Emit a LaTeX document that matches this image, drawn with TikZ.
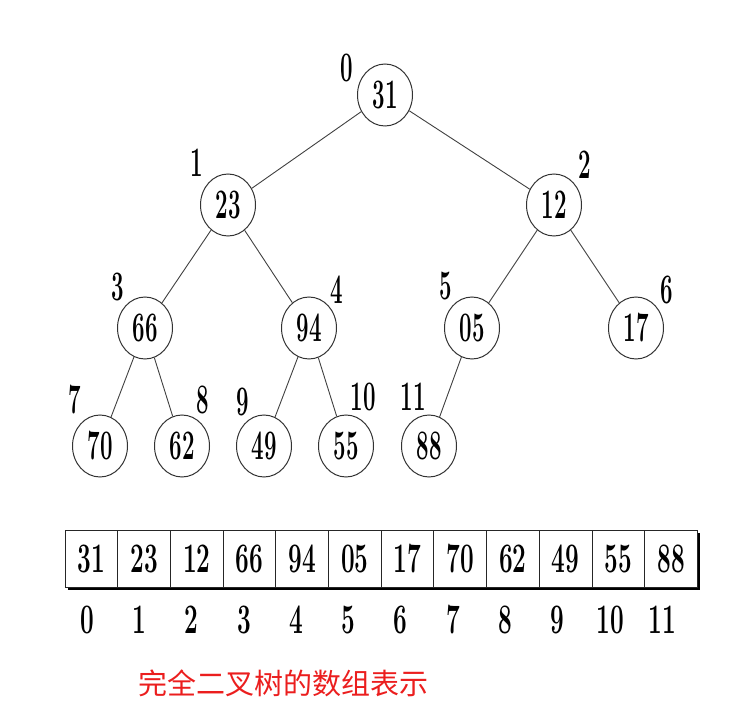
\documentclass[tikz,border=0pt]{standalone}
\usepackage{fontspec}
\newfontfamily\cjk{Noto Sans CJK SC}
\usetikzlibrary{shapes.geometric}
\newcommand{\cnd}[2][0.53]{\scalebox{#1}[1]{\fontsize{42}{42}\selectfont\bfseries #2}}
\definecolor{capred}{RGB}{235,30,30}
\tikzset{
  tnode/.style={ellipse, draw=black!80, line width=1pt, minimum width=55pt, minimum height=62pt, inner sep=0pt},
  idx/.style={inner sep=0pt},
  edge/.style={draw=black!75, line width=0.9pt},
  cell/.style={draw=black!85, line width=0.9pt, fill=white, minimum width=52.7pt, minimum height=57pt, inner sep=0pt, anchor=center}
}
\begin{document}
\begin{tikzpicture}[x=1pt,y=-1pt]
\useasboundingbox (0,0) rectangle (745,711);
% tree nodes
\node[tnode] (n0) at (385,95) {\cnd{31}};
\node[tnode] (n1) at (228,205) {\cnd{23}};
\node[tnode] (n2) at (554,205) {\cnd{12}};
\node[tnode] (n3) at (145,328) {\cnd{66}};
\node[tnode] (n4) at (309,328) {\cnd{94}};
\node[tnode] (n5) at (472,328) {\cnd{05}};
\node[tnode] (n6) at (636,328) {\cnd{17}};
\node[tnode] (n7) at (100,446) {\cnd{70}};
\node[tnode] (n8) at (182,446) {\cnd{62}};
\node[tnode] (n9) at (264,446) {\cnd{49}};
\node[tnode] (n10) at (346,446) {\cnd{55}};
\node[tnode] (n11) at (429,446) {\cnd{88}};
% edges
\draw[edge] (n0) -- (n1);
\draw[edge] (n0) -- (n2);
\draw[edge] (n1) -- (n3);
\draw[edge] (n1) -- (n4);
\draw[edge] (n2) -- (n5);
\draw[edge] (n2) -- (n6);
\draw[edge] (n3) -- (n7);
\draw[edge] (n3) -- (n8);
\draw[edge] (n4) -- (n9);
\draw[edge] (n4) -- (n10);
\draw[edge] (n5) -- (n11);
% index labels
\node[idx] (l0) at (347,68) {\cnd{0}};
\node[idx] (l1) at (197,163) {\cnd{1}};
\node[idx] (l2) at (585,165) {\cnd{2}};
\node[idx] (l3) at (118,287) {\cnd{3}};
\node[idx] (l4) at (337,290) {\cnd{4}};
\node[idx] (l5) at (446,286) {\cnd{5}};
\node[idx] (l6) at (667,290) {\cnd{6}};
\node[idx] (l7) at (75,400) {\cnd{7}};
\node[idx] (l8) at (203,400) {\cnd{8}};
\node[idx] (l9) at (243,402) {\cnd{9}};
\node[idx] (l10) at (363,397) {\cnd{10}};
\node[idx] (l11) at (413,397) {\cnd{11}};
% array shadow
\fill[black] (68,533) rectangle (699.5,590);
% array cells
\foreach \v [count=\i from 0] in {31,23,12,66,94,05,17,70,62,49,55,88} {
  \node[cell] (c\i) at ({65+52.7*(\i+0.5)},559) {\cnd[0.58]{\v}};
}
% array indices
\foreach \i in {0,...,11} {
  \node[idx] (a\i) at ({87+52.3*\i},620) {\cnd[0.58]{\i}};
}
% caption
\node[inner sep=0pt, text=capred] (cap) at (283,683) {\cjk\fontsize{29}{29}\selectfont 完全二叉树的数组表示};
\end{tikzpicture}
\end{document}
